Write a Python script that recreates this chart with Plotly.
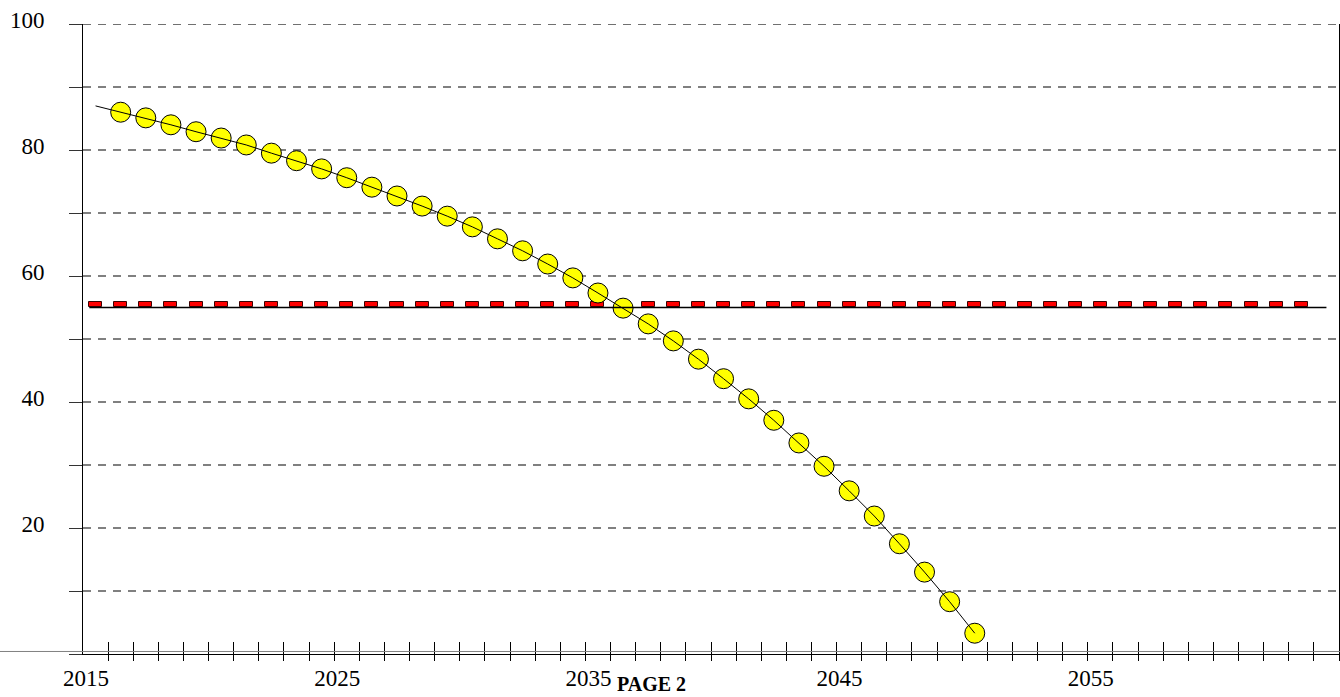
import plotly.graph_objects as go

# ---- data ------------------------------------------------------------
years = list(range(2016, 2051))          # one point per year, drawn at mid-year
values = [86.0, 85.1, 84.0, 82.9, 81.9, 80.8, 79.5, 78.3, 77.0, 75.6,
          74.1, 72.7, 71.1, 69.5, 67.8, 65.9, 64.0, 61.9, 59.7, 57.3,
          54.9, 52.4, 49.7, 46.8, 43.7, 40.5, 37.1, 33.5, 29.8, 25.9,
          21.9, 17.5, 13.0, 8.3, 3.3]
line_start_year = 2015
line_start_value = 87.0

red_years = list(range(2015, 2064))
red_level = 55.5
black_level = 55.0
black_span = [2015.25, 2064.5]

y_ticks = [0, 10, 20, 30, 40, 50, 60, 70, 80, 90, 100]
y_labels = ["", "", "20", "", "40", "", "60", "", "80", "", "100"]
x_label_years = [2015, 2025, 2035, 2045, 2055]
x_minor_years = list(range(2016, 2066))

FONT = "Liberation Serif, Times New Roman, serif"

fig = go.Figure()

# red dashed level drawn as little boxes
fig.add_trace(go.Bar(
    x=[y + 0.5 for y in red_years],
    y=[0.8] * len(red_years),
    base=red_level - 0.42,
    width=0.52,
    marker=dict(color="#ff0000", line=dict(color="#3a0000", width=1)),
    hoverinfo="skip", showlegend=False,
))

# yellow circles
fig.add_trace(go.Scatter(
    x=[y + 0.5 for y in years], y=values, mode="markers",
    marker=dict(size=20, color="#ffff00", line=dict(color="black", width=1)),
    showlegend=False,
))

# thin black line through the circles
fig.add_trace(go.Scatter(
    x=[line_start_year + 0.5] + [y + 0.5 for y in years],
    y=[line_start_value] + values, mode="lines",
    line=dict(color="black", width=1), showlegend=False, hoverinfo="skip",
))

# black horizontal level
fig.add_trace(go.Scatter(
    x=black_span, y=[black_level] * 2, mode="lines",
    line=dict(color="black", width=1.3), showlegend=False, hoverinfo="skip",
))

# dummy traces so the overlay tick axes get drawn
for ax in ["x2", "x3"]:
    fig.add_trace(go.Scatter(x=[2015], y=[0], xaxis=ax, mode="markers",
                             marker=dict(opacity=0), showlegend=False,
                             hoverinfo="skip"))

# grey baseline running across the whole page
fig.add_shape(type="line", xref="paper", yref="y",
              x0=-83 / 1256, x1=1 + 1 / 1256, y0=0.4, y1=0.4,
              line=dict(color="#808080", width=1), layer="above")

# dashed top border (gridline at 100 sits on the plot edge)
fig.add_shape(type="line", xref="paper", yref="y",
              x0=0, x1=1, y0=100, y1=100,
              line=dict(color="#707070", width=2, dash="8px,7px"),
              layer="above")

fig.add_annotation(text="<b>PAGE 2</b>", xref="paper", yref="paper",
                   x=0.453, y=-0.0476, yanchor="middle", showarrow=False,
                   font=dict(family=FONT, size=20, color="black"))

xcommon = dict(range=[2015, 2065], showgrid=False, zeroline=False,
               automargin=False)

fig.update_layout(
    width=1340, height=697,
    margin=dict(l=83, r=1, t=24, b=43),
    paper_bgcolor="white", plot_bgcolor="white",
    font=dict(family=FONT, size=23, color="black"),
    bargap=0,
    xaxis=dict(**xcommon, tickvals=x_label_years,
               ticktext=[str(v) for v in x_label_years],
               ticks="", showline=True, linecolor="black", linewidth=1.3,
               ticklabelstandoff=3, ticklabelshift=3,
               tickfont=dict(size=23)),
    xaxis2=dict(**xcommon, overlaying="x", anchor="y", side="bottom",
                tickvals=x_minor_years, showticklabels=False,
                ticks="outside", ticklen=6, tickwidth=1, tickcolor="black"),
    xaxis3=dict(**xcommon, overlaying="x", anchor="y", side="bottom",
                tickvals=x_minor_years, showticklabels=False,
                ticks="inside", ticklen=12, tickwidth=1, tickcolor="black"),
    yaxis=dict(range=[0, 100], tickvals=y_ticks, ticktext=y_labels,
               ticks="outside", ticklen=13, tickcolor="#333333",
               tickwidth=1.3, automargin=False,
               showline=True, linecolor="black", linewidth=1, mirror=True,
               showgrid=True, gridcolor="#808080", gridwidth=2,
               griddash="8px,7px", zeroline=False,
               ticklabelstandoff=20, ticklabelshift=-4,
               tickfont=dict(size=23)),
)

fig.write_html("out.html",
               config={"displayModeBar": False},
               post_script="document.body.style.margin='0';"
                           "document.body.style.overflow='hidden';")
